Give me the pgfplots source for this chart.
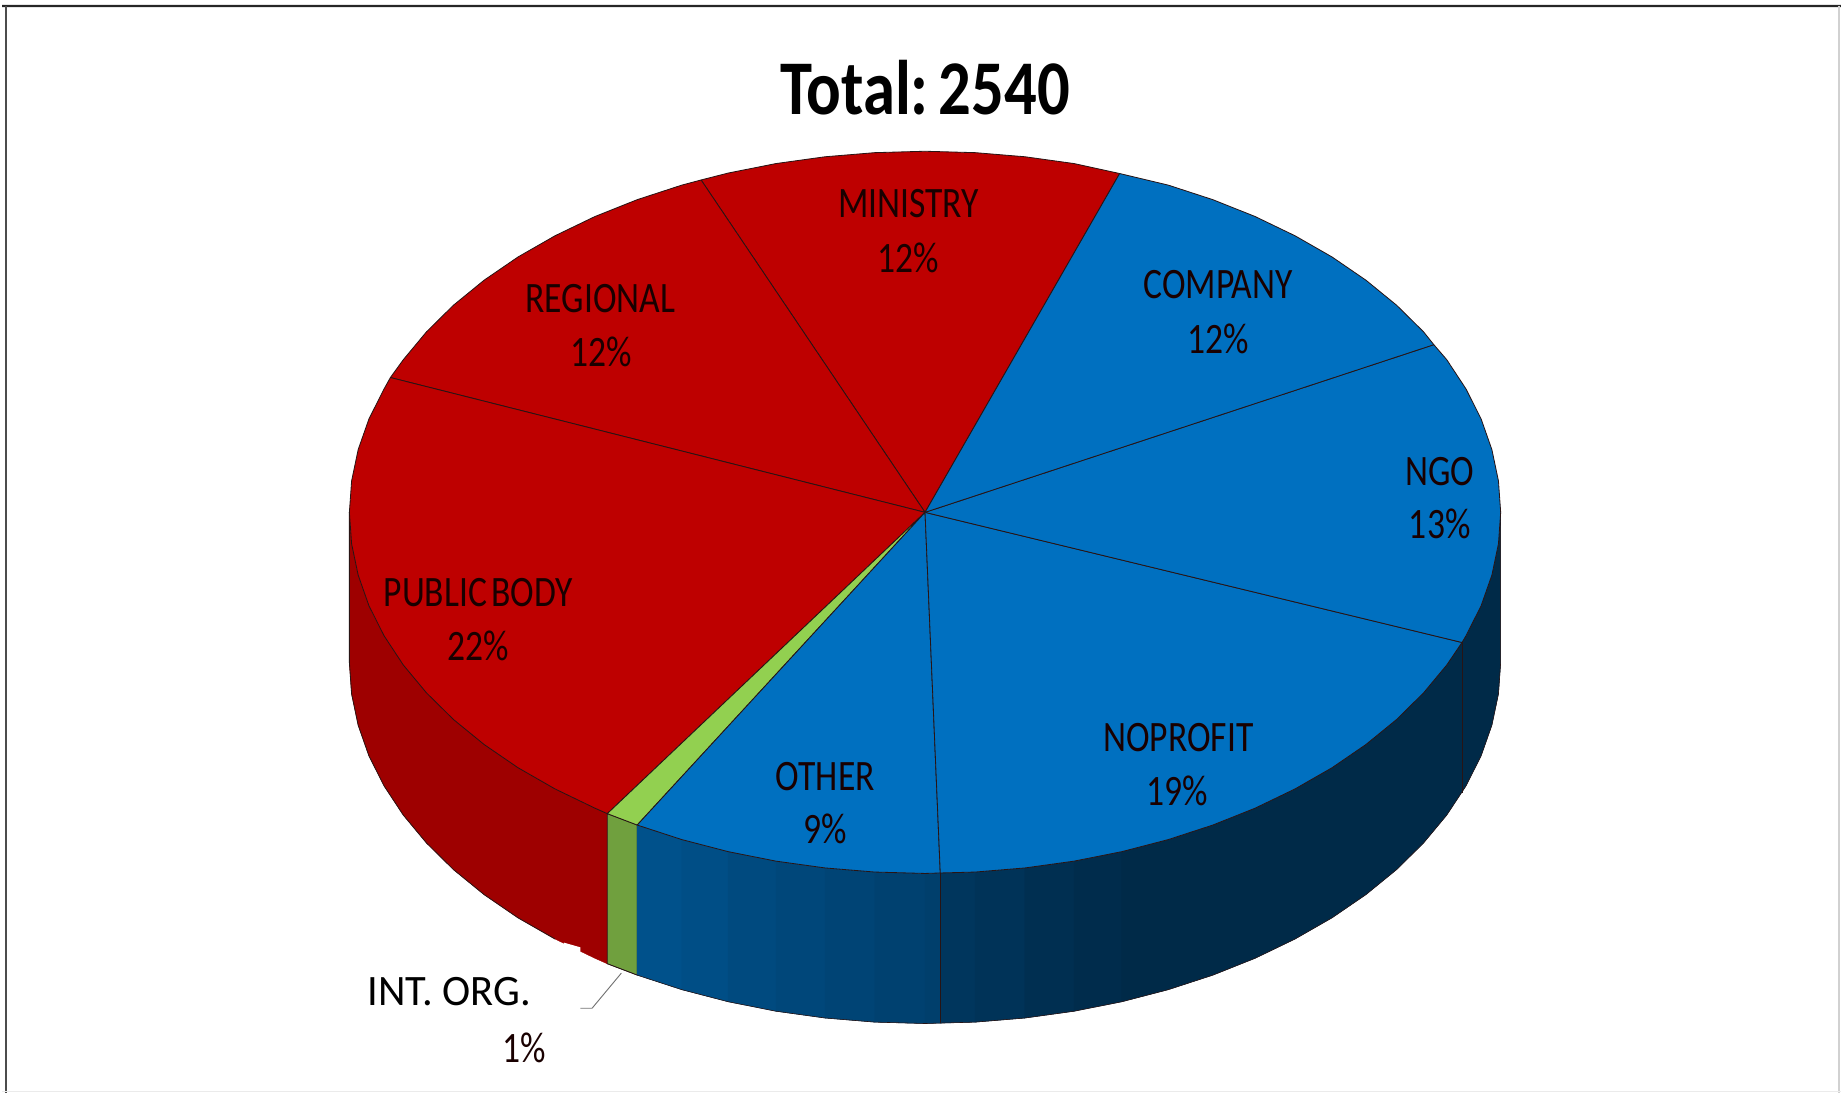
\documentclass[border=0pt]{standalone}
\usepackage{fontspec}
\usepackage{pgfplots}
\pgfplotsset{compat=1.18}
\setmainfont{Carlito}
\newfontfamily\lab[FakeStretch=0.82]{Carlito}
\newfontfamily\ttl[FakeStretch=0.835]{Carlito}
\newfontfamily\intl[FakeStretch=0.98]{Carlito}
\definecolor{redtop}{RGB}{190,0,0}
\definecolor{redside}{RGB}{158,0,0}
\definecolor{bluetop}{RGB}{0,112,192}
\definecolor{greentop}{RGB}{146,208,80}
\definecolor{greenside}{RGB}{112,160,62}
\definecolor{edge}{RGB}{40,20,20}
\tikzset{sliceline/.style={draw=edge,line width=.35pt,line join=round}}
\newcommand\lbl[4]{\node[font=\lab\fontsize{18.5pt}{20pt}\selectfont,inner sep=0pt,text=black!90!red] at (axis cs:#1,#2) {#3};}
\begin{document}
\begin{tikzpicture}
\begin{axis}[
  x=0.5pt,y=0.5pt,
  xmin=0,xmax=1568,ymin=0,ymax=932,
  y dir=reverse,
  axis lines=none,
  clip=false,
  scale only axis,
  every axis plot/.append style={mark=none}
]
% full page extent
\addplot[draw=white,line width=0pt] coordinates {(0,0)(1568,0)(1568,932)(0,932)} --cycle;
% page frame
\addplot[draw=black!10,line width=2pt] coordinates {(0,5)(1568,5)};
\addplot[draw=black!85,line width=.9pt] coordinates {(0,5)(1568,5)};
\addplot[draw=black!70,line width=.6pt] coordinates {(3,5)(3,932)};
\addplot[draw=black!18,line width=.6pt] coordinates {(1566.5,5)(1566.5,932)};
\addplot[draw=black!8,line width=.5pt] coordinates {(0,931)(1568,931)};

% side wall: PUBLIC BODY
\addplot[fill=redside,draw=redside,line width=.2pt] coordinates {(296,437)(297.9,463.8)(303.5,490.5)(312.7,516.7)(325.6,542.3)(342,567.2)(361.8,591)(384.8,613.7)(410.9,635)(439.8,654.8)(471.4,672.9)(505.4,689.3)(516,694)(516,822)(505.4,817.3)(471.4,800.9)(439.8,782.8)(410.9,763)(384.8,741.7)(361.8,719)(342,695.2)(325.6,670.3)(312.7,644.7)(303.5,618.5)(297.9,591.8)(296,565)} --cycle;
% small white nick in the lower edge
\addplot[fill=white,draw=none] coordinates {(479,804)(493,808)(493,818)(479,818)} --cycle;

% side wall: INT. ORG.
\addplot[fill=greenside,draw=edge,line width=.3pt] coordinates {(516,694)(541.5,703.7)(541.5,831.7)(516,822)} --cycle;

% side wall: OTHER and NOPROFIT / NGO (blue, darkening to the right)
\addplot[fill={rgb,255:red,0;green,81;blue,139},draw={rgb,255:red,0;green,81;blue,139},line width=.2pt] coordinates {(541.5,703.7)(579.5,716.1)(579.5,844.1)(541.5,831.7)} --cycle;
\addplot[fill={rgb,255:red,0;green,78;blue,134},draw={rgb,255:red,0;green,78;blue,134},line width=.2pt] coordinates {(579.5,716.1)(619.1,726.4)(619.1,854.4)(579.5,844.1)} --cycle;
\addplot[fill={rgb,255:red,0;green,74;blue,127},draw={rgb,255:red,0;green,74;blue,127},line width=.2pt] coordinates {(619.1,726.4)(659.9,734.5)(659.9,862.5)(619.1,854.4)} --cycle;
\addplot[fill={rgb,255:red,0;green,71;blue,122},draw={rgb,255:red,0;green,71;blue,122},line width=.2pt] coordinates {(659.9,734.5)(701.8,740.3)(701.8,868.3)(659.9,862.5)} --cycle;
\addplot[fill={rgb,255:red,0;green,68;blue,117},draw={rgb,255:red,0;green,68;blue,117},line width=.2pt] coordinates {(701.8,740.3)(744.2,743.8)(744.2,871.8)(701.8,868.3)} --cycle;
\addplot[fill={rgb,255:red,0;green,65;blue,112},draw={rgb,255:red,0;green,65;blue,112},line width=.2pt] coordinates {(744.2,743.8)(787,745)(787,873)(744.2,871.8)} --cycle;
\addplot[fill={rgb,255:red,0;green,63;blue,108},draw={rgb,255:red,0;green,63;blue,108},line width=.2pt] coordinates {(787,745)(800,744.6)(800,872.6)(787,873)} --cycle;
\addplot[fill={rgb,255:red,0;green,54;blue,93},draw={rgb,255:red,0;green,54;blue,93},line width=.2pt] coordinates {(800,744.6)(829.8,743.8)(829.8,871.8)(800,872.6)} --cycle;
\addplot[fill={rgb,255:red,0;green,51;blue,88},draw={rgb,255:red,0;green,51;blue,88},line width=.2pt] coordinates {(829.8,743.8)(872.2,740.3)(872.2,868.3)(829.8,871.8)} --cycle;
\addplot[fill={rgb,255:red,0;green,47;blue,81},draw={rgb,255:red,0;green,47;blue,81},line width=.2pt] coordinates {(872.2,740.3)(914.1,734.5)(914.1,862.5)(872.2,868.3)} --cycle;
\addplot[fill={rgb,255:red,0;green,44;blue,76},draw={rgb,255:red,0;green,44;blue,76},line width=.2pt] coordinates {(914.1,734.5)(954.9,726.4)(954.9,854.4)(914.1,862.5)} --cycle;
\addplot[fill={rgb,255:red,0;green,42;blue,72},draw={rgb,255:red,0;green,42;blue,72},line width=.2pt] coordinates {(954.9,726.4)(994.5,716.1)(1032.5,703.7)(1068.6,689.3)(1102.6,672.9)(1134.2,654.8)(1163.1,635)(1189.2,613.7)(1212.2,591)(1232,567.2)(1248.4,542.3)(1261.3,516.7)(1270.5,490.5)(1276.1,463.8)(1278,437)(1278,565)(1276.1,591.8)(1270.5,618.5)(1261.3,644.7)(1248.4,670.3)(1232,695.2)(1212.2,719)(1189.2,741.7)(1163.1,763)(1134.2,782.8)(1102.6,800.9)(1068.6,817.3)(1032.5,831.7)(994.5,844.1)(954.9,854.4)} --cycle;

% vertical edges and lower outline of the wall
\addplot[sliceline] coordinates {(800,744.6)(800,872.6)};
\addplot[sliceline] coordinates {(1245,548)(1245,676)};
\addplot[sliceline] coordinates {(296,437)(296,565)(297.9,591.8)(303.5,618.5)(312.7,644.7)(325.6,670.3)(342,695.2)(361.8,719)(384.8,741.7)(410.9,763)(439.8,782.8)(471.4,800.9)};
\addplot[draw=edge,line width=.25pt] coordinates {(516,822)(541.5,831.7)(579.5,844.1)(619.1,854.4)(659.9,862.5)(701.8,868.3)(744.2,871.8)(787,873)(829.8,871.8)(872.2,868.3)(914.1,862.5)(954.9,854.4)(994.5,844.1)(1032.5,831.7)(1068.6,817.3)(1102.6,800.9)(1134.2,782.8)(1163.1,763)(1189.2,741.7)(1212.2,719)(1232,695.2)(1248.4,670.3)(1261.3,644.7)(1270.5,618.5)(1276.1,591.8)(1278,565)(1278,437)};

% top face: MINISTRY 12%
\addplot[fill=redtop,sliceline] coordinates {(787,437)(953,148)(914.1,139.5)(872.2,133.7)(829.8,130.2)(787,129)(744.2,130.2)(701.8,133.7)(659.9,139.5)(619.1,147.6)(596,153.5)} --cycle;
% REGIONAL 12%
\addplot[fill=redtop,sliceline] coordinates {(787,437)(596,153.5)(579.5,157.9)(541.5,170.3)(505.4,184.7)(471.4,201.1)(439.8,219.2)(410.9,239)(384.8,260.3)(361.8,283)(342,306.8)(331,322)} --cycle;
% PUBLIC BODY 22%
\addplot[fill=redtop,sliceline] coordinates {(787,437)(331,322)(325.6,331.7)(312.7,357.3)(303.5,383.5)(297.9,410.2)(296,437)(297.9,463.8)(303.5,490.5)(312.7,516.7)(325.6,542.3)(342,567.2)(361.8,591)(384.8,613.7)(410.9,635)(439.8,654.8)(471.4,672.9)(505.4,689.3)(516,694)} --cycle;
% INT. ORG. 1%
\addplot[fill=greentop,sliceline] coordinates {(787,437)(516,694)(541.5,703.7)} --cycle;
% OTHER 9%
\addplot[fill=bluetop,sliceline] coordinates {(787,437)(541.5,703.7)(579.5,716.1)(619.1,726.4)(659.9,734.5)(701.8,740.3)(744.2,743.8)(787,745)(800,744.6)} --cycle;
% NOPROFIT 19%
\addplot[fill=bluetop,sliceline] coordinates {(787,437)(800,744.6)(829.8,743.8)(872.2,740.3)(914.1,734.5)(954.9,726.4)(994.5,716.1)(1032.5,703.7)(1068.6,689.3)(1102.6,672.9)(1134.2,654.8)(1163.1,635)(1189.2,613.7)(1212.2,591)(1232,567.2)(1245,548)} --cycle;
% NGO 13%
\addplot[fill=bluetop,sliceline] coordinates {(787,437)(1245,548)(1248.4,542.3)(1261.3,516.7)(1270.5,490.5)(1276.1,463.8)(1278,437)(1276.1,410.2)(1270.5,383.5)(1261.3,357.3)(1248.4,331.7)(1232,306.8)(1221,294)} --cycle;
% COMPANY 12%
\addplot[fill=bluetop,sliceline] coordinates {(787,437)(1221,294)(1212.2,283)(1189.2,260.3)(1163.1,239)(1134.2,219.2)(1102.6,201.1)(1068.6,184.7)(1032.5,170.3)(994.5,157.9)(953,148)} --cycle;

% leader line
\addplot[draw=black!55,line width=.4pt] coordinates {(528,830)(503,860)(493,860)};

% labels
\node[font=\ttl\bfseries\fontsize{33pt}{36pt}\selectfont,inner sep=0pt] at (axis cs:787,75) {Total:\hspace{-.12em} 2540};
\lbl{773}{174}{MINISTRY}{}
\lbl{773}{220}{12\%}{}
\lbl{510}{255}{REGIONAL}{}
\lbl{511}{300}{12\%}{}
\lbl{1037}{243}{COMPANY}{}
\lbl{1037}{289}{12\%}{}
\lbl{1226}{402}{NGO}{}
\lbl{1226}{447}{13\%}{}
\lbl{406}{505.5}{PUBLIC\hspace{-.08em} BODY}{}
\lbl{406}{551}{22\%}{}
\lbl{1003}{629.5}{NOPROFIT}{}
\lbl{1002}{675}{19\%}{}
\lbl{702}{662}{OTHER}{}
\lbl{702}{707}{9\%}{}
\node[font=\intl\fontsize{18.5pt}{20pt}\selectfont,inner sep=0pt] at (axis cs:381,845.5) {INT. ORG.};
\lbl{445}{894}{1\%}{}
\end{axis}
\end{tikzpicture}
\end{document}
